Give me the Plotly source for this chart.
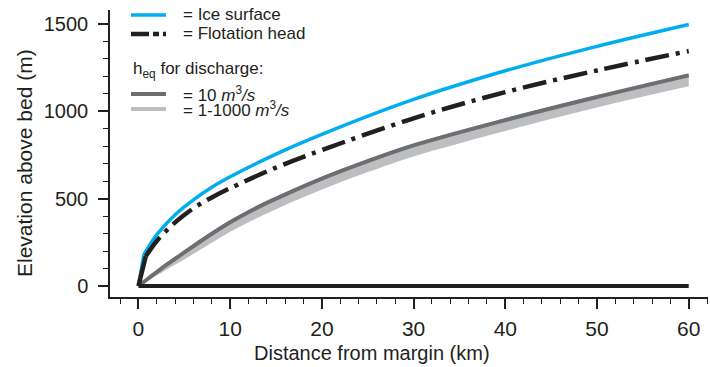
import plotly.graph_objects as go

# ---- data ----
ice_x = [0, 0.6, 1, 2, 4, 6, 8, 10, 15, 20, 30, 40, 50, 60]
ice_y = [0, 181, 215, 294, 408, 493, 565, 625, 755, 868, 1068, 1232, 1372, 1497]

flot_x = [0, 0.8, 2, 4, 6, 8, 10, 15, 20, 30, 40, 50, 60]
flot_y = [0, 170, 258, 364, 445, 507, 560, 678, 778, 960, 1110, 1234, 1345]

heq_x = [0, 1, 2, 3, 5, 7.5, 10, 12.5, 15, 20, 25, 30, 40, 50, 60]
heq10_y = [0, 40, 80, 119, 192, 282, 365, 437, 500, 615, 715, 805, 950, 1082, 1206]
heq_hi_y = [0, 44, 87, 127, 202, 292, 376, 448, 511, 626, 726, 816, 961, 1093, 1218]
heq_lo_y = [0, 30, 60, 92, 152, 232, 310, 378, 440, 553, 652, 742, 888, 1022, 1143]

bed_x = [0, 60]
bed_y = [0, 0]

x_ticks = [0, 10, 20, 30, 40, 50, 60]
y_ticks = [0, 500, 1000, 1500]

BLUE = "#00AEEF"
BLACK = "#231F20"
DARK = "#6D6E71"
LIGHT = "#BCBEC0"
FONT = "Liberation Sans"

fig = go.Figure()

# light grey band (1-1000 m3/s)
fig.add_trace(go.Scatter(x=heq_x, y=heq_lo_y, mode="lines", line=dict(width=0, shape="spline"),
                         hoverinfo="skip", showlegend=False))
fig.add_trace(go.Scatter(x=heq_x, y=heq_hi_y, mode="lines", line=dict(width=0, shape="spline"),
                         fill="tonexty", fillcolor=LIGHT, showlegend=False))
# dark grey (10 m3/s)
fig.add_trace(go.Scatter(x=heq_x, y=heq10_y, mode="lines", line=dict(color=DARK, width=4, shape="spline"),
                         showlegend=False))
# ice surface
fig.add_trace(go.Scatter(x=ice_x[:2], y=ice_y[:2], mode="lines", line=dict(color=BLUE, width=3.5),
                         showlegend=False))
fig.add_trace(go.Scatter(x=ice_x[1:], y=ice_y[1:], mode="lines", line=dict(color=BLUE, width=3.5, shape="spline"),
                         showlegend=False))
# flotation head
fig.add_trace(go.Scatter(x=flot_x[:2], y=flot_y[:2], mode="lines", line=dict(color=BLACK, width=4.5),
                         showlegend=False))
fig.add_trace(go.Scatter(x=flot_x[1:], y=flot_y[1:], mode="lines",
                         line=dict(color=BLACK, width=4.5, shape="spline", dash="24px,7px,4px,7px"),
                         showlegend=False))
# bed
fig.add_trace(go.Scatter(x=bed_x, y=bed_y, mode="lines", line=dict(color=BLACK, width=4), showlegend=False))

# ---- layout geometry ----
W, H = 710, 367
L, R, T, B = 110, 2, 10, 70
pw, ph = W - L - R, H - T - B


def px(xp):
    return (xp - L) / pw


def py(yp):
    return (H - B - yp) / ph


shapes = []
annotations = []
leg = [
    (15, dict(color=BLUE, width=3.5), "= Ice surface"),
    (34, dict(color=BLACK, width=4.5, dash="18px,4px,6px,4px"), "= Flotation head"),
    (94, dict(color=DARK, width=4), "= 10 <i>m</i><sup>3</sup><i>/s</i>"),
    (109, dict(color=LIGHT, width=4), "= 1-1000 <i>m</i><sup>3</sup><i>/s</i>"),
]
for yp, ln, txt in leg:
    shapes.append(dict(type="line", xref="paper", yref="paper", x0=px(131), x1=px(166),
                       y0=py(yp), y1=py(yp), line=ln))
    annotations.append(dict(xref="paper", yref="paper", x=px(181), y=py(yp), text=txt,
                            showarrow=False, xanchor="left", yanchor="middle",
                            font=dict(family=FONT, size=17, color=BLACK)))
annotations.append(dict(xref="paper", yref="paper", x=px(131), y=py(70),
                        text="h<sub>eq</sub> for discharge:", showarrow=False,
                        xanchor="left", yanchor="middle",
                        font=dict(family=FONT, size=17, color=BLACK)))
# axis titles
annotations.append(dict(xref="paper", yref="paper", x=px(372), y=py(353),
                        text="Distance from margin (km)", showarrow=False,
                        xanchor="center", yanchor="middle",
                        font=dict(family=FONT, size=20, color=BLACK)))
annotations.append(dict(xref="paper", yref="paper", x=px(24), y=py(163),
                        text="Elevation above bed (m)", showarrow=False, textangle=-90,
                        xanchor="center", yanchor="middle",
                        font=dict(family=FONT, size=21, color=BLACK)))

fig.update_layout(
    width=W, height=H,
    margin=dict(l=L, r=R, t=T, b=B),
    paper_bgcolor="white", plot_bgcolor="white",
    font=dict(family=FONT, size=20, color=BLACK),
    shapes=shapes, annotations=annotations,
    showlegend=False,
)
fig.update_xaxes(
    range=[-3.1, 62.1], tickvals=x_ticks, ticktext=[str(v) for v in x_ticks],
    showline=True, linecolor=BLACK, linewidth=1.5, showgrid=False, zeroline=False,
    ticks="outside", ticklen=10, tickwidth=1.5, tickcolor=BLACK,
    minor=dict(dtick=2, tick0=0, ticks="outside", ticklen=5, tickwidth=1.2, tickcolor=BLACK, showgrid=False),
    tickfont=dict(family=FONT, size=21), ticklabelstandoff=2,
)
fig.update_yaxes(
    range=[-63, 1580], tickvals=y_ticks, ticktext=[str(v) for v in y_ticks],
    showline=True, linecolor=BLACK, linewidth=1.5, showgrid=False, zeroline=False,
    ticks="outside", ticklen=10, tickwidth=1.5, tickcolor=BLACK,
    minor=dict(dtick=100, tick0=0, ticks="outside", ticklen=5, tickwidth=1.2, tickcolor=BLACK, showgrid=False),
    tickfont=dict(family=FONT, size=20), ticklabelstandoff=6,
)

fig.write_html("out.html")
